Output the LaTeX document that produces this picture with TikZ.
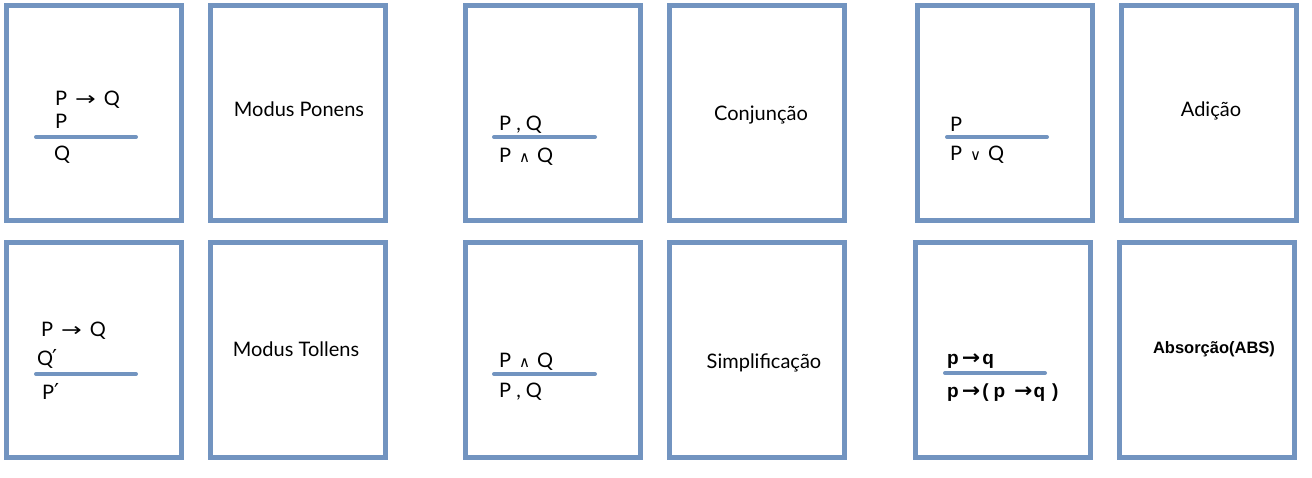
\documentclass[tikz,border=0pt]{standalone}
\usepackage{fontspec}
\usepackage{graphicx}
\setmainfont{Lato}
\newfontfamily\symf{DejaVu Sans}
\newfontfamily\arialf{Liberation Sans}
\definecolor{cardblue}{RGB}{114,148,192}
\tikzset{
  card/.style={draw=cardblue, line width=5pt, minimum width=175pt, minimum height=215pt, inner sep=0pt, fill=white},
  rulebar/.style={draw=cardblue, line width=4pt, line cap=round},
  frm/.style={anchor=base west, inner sep=0pt, font=\fontsize{20}{24}\selectfont},
  lbl/.style={anchor=base, inner sep=0pt, font=\fontsize{20}{24}\selectfont},
  arl/.style={anchor=base west, inner sep=0pt, font=\arialf\bfseries\fontsize{19}{22}\selectfont},
}
\newcommand{\arr}{\scalebox{1.3}[1]{\symf\fontsize{19}{22}\selectfont →}}
\newcommand{\barr}{\scalebox{1.1}[1]{\symf\bfseries\fontsize{20}{22}\selectfont →}}
\newcommand{\andsym}{{\symf\fontsize{15}{18}\selectfont ∧}}
\newcommand{\orsym}{{\symf\fontsize{15}{18}\selectfont ∨}}
\newcommand{\prm}{{\symf\fontsize{22}{24}\selectfont ′}}
\begin{document}
\begin{tikzpicture}[x=1pt,y=-1pt]
\useasboundingbox[fill=white] (0,0) rectangle (1312,478);
% row 1 cards
\node[card] (c1) at (94,113.5) {};
\node[card] (c2) at (298,113.5) {};
\node[card] (c3) at (553,113.5) {};
\node[card] (c4) at (757,113.5) {};
\node[card] (c5) at (1005,113.5) {};
\node[card] (c6) at (1209,113.5) {};
% row 2 cards
\node[card] (c7) at (94,350.25) {};
\node[card] (c8) at (298,350.25) {};
\node[card] (c9) at (553,350.25) {};
\node[card] (c10) at (757,350.25) {};
\node[card] (c11) at (1003,350.25) {};
\node[card] (c12) at (1207,350.25) {};
% card 1: modus ponens
\node[frm] (mp1) at (55,106) {P\hspace{8pt}\arr\hspace{8pt}Q};
\node[frm] (mp2) at (55,129) {P};
\draw[rulebar] (36,137) -- (136,137);
\node[frm] (mp3) at (54,161) {Q};
\node[lbl] (mpn) at (299,117) {Modus Ponens};
% card 3: conjuncao
\node[frm] (cj1) at (499,131) {P , Q};
\draw[rulebar] (494,137) -- (595,137);
\node[frm] (cj2) at (499,163) {P\hspace{8pt}\andsym\hspace{7pt}Q};
\node[lbl] (cjn) at (761,121) {Conjunção};
% card 5: adicao
\node[frm] (ad1) at (950,132) {P};
\draw[rulebar] (947,137) -- (1047,137);
\node[frm] (ad2) at (950,161) {P\hspace{8pt}\orsym\hspace{7pt}Q};
\node[lbl] (adn) at (1211,117) {Adição};
% card 7: modus tollens
\node[frm] (mt1) at (41,337) {P\hspace{8pt}\arr\hspace{8pt}Q};
\node[frm] (mt2) at (37,365) {Q\hspace{-1pt}\prm};
\draw[rulebar] (36,374) -- (136,374);
\node[frm] (mt3) at (42,399) {P\prm};
\node[lbl] (mtn) at (296,356) {Modus Tollens};
% card 9: simplificacao
\node[frm] (sp1) at (499,367) {P\hspace{8pt}\andsym\hspace{7pt}Q};
\draw[rulebar] (494,374) -- (595,374);
\node[frm] (sp2) at (499,397) {P , Q};
\node[lbl] (spn) at (764,368) {Simplificação};
% card 11: absorcao
\node[arl] (ab1) at (947,364) {p\hspace{3pt}\barr\hspace{2pt}q};
\draw[rulebar] (945,373) -- (1045,373);
\node[arl] (ab2) at (947,397) {p\hspace{3pt}\barr\hspace{2pt}(\hspace{5pt}p\hspace{9pt}\barr\hspace{1pt}q\hspace{7pt})};
\node[anchor=base, inner sep=0pt, font=\arialf\bfseries\fontsize{16.5}{20}\selectfont] (abn) at (1214,353) {Absorção(ABS)};
\end{tikzpicture}
\end{document}
